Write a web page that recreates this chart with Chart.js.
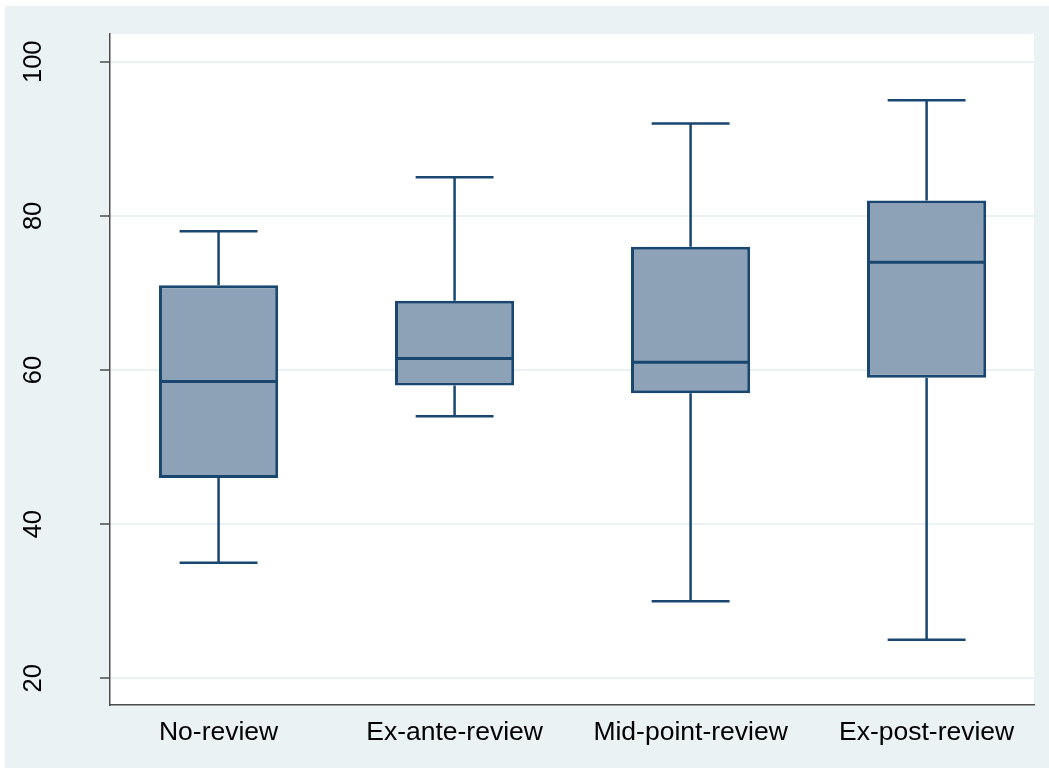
<!DOCTYPE html>
<html>
<head>
<meta charset="utf-8">
<script src="https://cdn.jsdelivr.net/npm/chart.js@4"></script>
<style>
  html, body { margin: 0; padding: 0; background: #ffffff; }
  #chartBox { width: 1049px; height: 770px; }
</style>
</head>
<body>
<div id="chartBox"><canvas id="chartCajas" width="1049" height="770"></canvas></div>
<script>
// datos
const categorias = ["No-review", "Ex-ante-review", "Mid-point-review", "Ex-post-review"];
const bigoteInf = [35, 54, 30, 25];
const cuartil1 = [46, 58, 57, 59];
const mediana = [58.5, 61.5, 61, 74];
const cuartil3 = [71, 69, 76, 82];
const bigoteSup = [78, 85, 92, 95];
const ticksY = [20, 40, 60, 80, 100];

const azul = "#1a476f";
const relleno = "#8da2b7";
const fondo = "#eaf2f3";
const mediaCaja = 0.245;   // media anchura de la caja (unidades de x)
const mediaTope = 0.165;   // media anchura del tope del bigote

const posX = categorias.map((c, i) => i + 1);
const hueco = { x: null, y: null };

// bigotes verticales y topes como segmentos separados por huecos
const bigotes = [];
const topes = [];
const medianas = [];
posX.forEach((x, i) => {
    bigotes.push({ x: x, y: cuartil3[i] }, { x: x, y: bigoteSup[i] }, hueco);
    bigotes.push({ x: x, y: cuartil1[i] }, { x: x, y: bigoteInf[i] }, hueco);
    topes.push({ x: x - mediaTope, y: bigoteSup[i] }, { x: x + mediaTope, y: bigoteSup[i] }, hueco);
    topes.push({ x: x - mediaTope, y: bigoteInf[i] }, { x: x + mediaTope, y: bigoteInf[i] }, hueco);
    medianas.push({ x: x - mediaCaja, y: mediana[i] }, { x: x + mediaCaja, y: mediana[i] }, hueco);
});

const fondoPlugin = {
    id: "fondoStata",
    beforeDraw(chart) {
        const { ctx, chartArea } = chart;
        ctx.save();
        ctx.fillStyle = fondo;
        ctx.fillRect(5, 6, chart.width - 5, chart.height - 8);
        ctx.fillStyle = "#ffffff";
        ctx.fillRect(chartArea.left, chartArea.top, chartArea.right - chartArea.left, chartArea.bottom - chartArea.top);
        ctx.restore();
    }
};

const lineaBase = { type: "line", borderColor: azul, borderWidth: 2.5, pointRadius: 0, spanGaps: false, fill: false, order: 0 };

const ctx = document.getElementById("chartCajas").getContext("2d");
const chart = new Chart(ctx, {
    data: {
        datasets: [
            {
                type: "bar",
                data: posX.map((x, i) => ({ x: x, y: [cuartil1[i], cuartil3[i]] })),
                backgroundColor: relleno,
                borderColor: azul,
                borderWidth: 3,
                borderSkipped: false,
                barPercentage: 0.505,
                categoryPercentage: 1.0,
                order: 1
            },
            Object.assign({ data: bigotes }, lineaBase),
            Object.assign({ data: topes }, lineaBase),
            Object.assign({}, lineaBase, { data: medianas, borderWidth: 3 })
        ]
    },
    options: {
        responsive: false,
        animation: false,
        layout: { padding: { top: 34, right: 15, left: 0, bottom: 0 } },
        plugins: { legend: { display: false }, tooltip: { enabled: false } },
        scales: {
            x: {
                type: "linear",
                offset: false,
                min: 0.54,
                max: 4.455,
                grid: { display: false },
                border: { display: true, color: "#4d4d4d", width: 1.5 },
                afterBuildTicks: axis => { axis.ticks = posX.map(v => ({ value: v })); },
                afterFit: axis => { axis.height = 65; axis.paddingLeft = 0; axis.paddingRight = 0; },
                ticks: {
                    autoSkip: false,
                    maxRotation: 0,
                    padding: 4,
                    color: "#000000",
                    font: { family: "Liberation Sans", size: 26.5 },
                    callback: v => categorias[v - 1]
                }
            },
            y: {
                type: "linear",
                min: 16.54,
                max: 103.6,
                grid: { color: fondo, lineWidth: 2, tickColor: "#4d4d4d", tickLength: 10, tickWidth: 1.5 },
                border: { display: true, color: "#4d4d4d", width: 1.5 },
                afterBuildTicks: axis => { axis.ticks = ticksY.map(v => ({ value: v })); },
                afterFit: axis => { axis.width = 110; axis.paddingTop = 0; axis.paddingBottom = 0; },
                ticks: {
                    minRotation: 90,
                    maxRotation: 90,
                    crossAlign: "center",
                    padding: 45,
                    color: "#000000",
                    font: { family: "Liberation Sans", size: 25.5 }
                }
            }
        }
    },
    plugins: [fondoPlugin]
});
</script>
</body>
</html>
